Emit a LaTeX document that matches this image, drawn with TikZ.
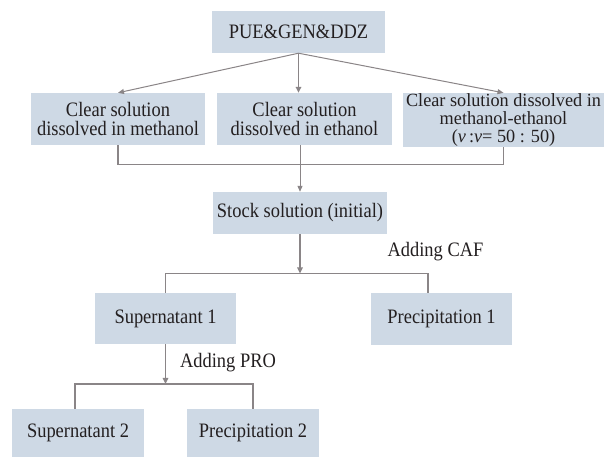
\documentclass[tikz,border=0pt]{standalone}
\usepackage{fontspec}
\setmainfont{Liberation Serif}[FakeStretch=0.9]
\newfontfamily\tightfont{Liberation Serif}[FakeStretch=0.98]
\usetikzlibrary{arrows.meta}
\definecolor{boxfill}{HTML}{CED9E5}
\definecolor{linec}{HTML}{8A8587}
\definecolor{txt}{HTML}{231F20}
\begin{document}
\begin{tikzpicture}[x=1pt,y=-1pt,
  font=\fontsize{20.5}{19.5}\selectfont,
  box/.style={fill=boxfill, draw=none, inner sep=0pt, align=center, text=txt},
  lbl/.style={text=txt, inner sep=0pt},
  conn/.style={draw=linec, line width=1.2pt},
  thinarr/.style={draw=linec, line width=1pt, -{Triangle[length=6pt,width=5pt]}},
  thickarr/.style={draw=linec, line width=1.8pt, -{Triangle[length=6pt,width=5.5pt]}}]
\useasboundingbox (0,0) rectangle (606,457);
\fill[white] (0,0) rectangle (606,457);

\node[box, minimum width=173pt, minimum height=42pt] (top) at (298.5,32) {PUE\&GEN\&DDZ};
\node[box, minimum width=174pt, minimum height=52pt] (m1) at (118,119) {Clear solution\\dissolved in methanol};
\node[box, minimum width=175pt, minimum height=52pt] (m2) at (304.5,119) {Clear solution\\dissolved in ethanol};
\node[box, minimum width=201pt, minimum height=54pt, font=\tightfont\fontsize{18.6}{17.6}\selectfont] (m3) at (503.5,120) {Clear solution dissolved in\\methanol-ethanol\\(\textit{v}\,:\textit{v}= 50 : 50)};
\node[box, minimum width=174pt, minimum height=42pt] (stock) at (300,213) {Stock solution (initial)};
\node[box, minimum width=141pt, minimum height=51pt] (sup1) at (165.5,318.5) {Supernatant 1};
\node[box, minimum width=141pt, minimum height=52pt] (prec1) at (441.5,319) {Precipitation 1};
\node[box, minimum width=132pt, minimum height=48pt] (sup2) at (78,433) {Supernatant 2};
\node[box, minimum width=132pt, minimum height=48pt] (prec2) at (253,433) {Precipitation 2};
\node[lbl] (caf) at (435.5,252) {Adding CAF};
\node[lbl] (pro) at (228,363) {Adding PRO};

\coordinate (j1) at (0,164.5);
\coordinate (j2) at (0,273.5);
\coordinate (j3) at (0,384);
\coordinate (p1b) at (428,293);
\coordinate (s2b) at (75,409);

\draw[thinarr] (top.south) -- (m1.north);
\draw[thinarr] (top.south) -- (m3.north);
\draw[thickarr] (top.south) -- (top.south |- m2.north);

\draw[conn] (m1.south) -- (m1.south |- j1) -- (m3.south |- j1) -- (m3.south);
\draw[thinarr] (stock.north |- m2.south) -- (stock.north);

\draw[thickarr] (stock.south) -- (stock.south |- j2);
\draw[conn] (sup1.north) |- (p1b |- j2) -- (p1b);

\draw[thickarr] (sup1.south) -- (sup1.south |- j3);
\draw[conn] (s2b) |- (prec2.north |- j3) -- (prec2.north);
\end{tikzpicture}
\end{document}
